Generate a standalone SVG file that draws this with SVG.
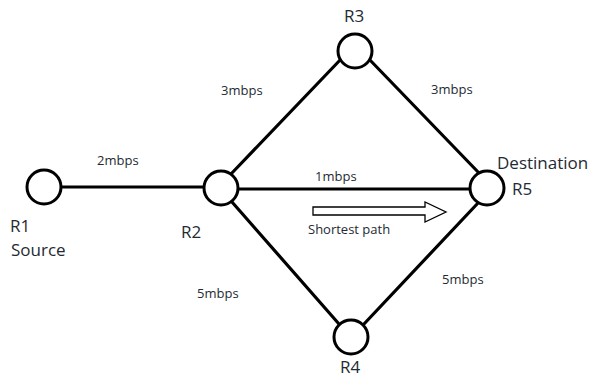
<svg xmlns="http://www.w3.org/2000/svg" width="598" height="380" viewBox="0 0 598 380">
  <style>
    .link { stroke: #000; stroke-width: 3.2; fill: none; stroke-linecap: round; }
    .router { fill: #fff; stroke: #000; stroke-width: 3; }
    .name { font-family: "Open Sans", "Liberation Sans", sans-serif; font-size: 17px; fill: #1f2a33; }
    .rate { font-family: "Open Sans", "Liberation Sans", sans-serif; font-size: 13px; fill: #1f2a33; }
    .arrow { fill: #fff; stroke: #000; stroke-width: 1.3; }
  </style>
  <rect width="598" height="380" fill="#fff"/>

  <!-- links between routers -->
  <g id="connectors">
    <line class="link" x1="61" y1="187" x2="204" y2="187"/>
    <line class="link" x1="239" y1="189" x2="470" y2="189"/>
    <line class="link" x1="231" y1="174" x2="342" y2="58"/>
    <line class="link" x1="368" y1="58" x2="479" y2="173"/>
    <line class="link" x1="232" y1="202" x2="339" y2="324"/>
    <line class="link" x1="364" y1="324" x2="478" y2="203"/>
  </g>

  <!-- link rates -->
  <g id="labels">
    <text class="rate" x="97" y="165">2mbps</text>
    <text class="rate" x="221" y="95">3mbps</text>
    <text class="rate" x="431" y="94">3mbps</text>
    <text class="rate" x="315" y="181">1mbps</text>
    <text class="rate" x="197" y="298">5mbps</text>
    <text class="rate" x="442" y="284">5mbps</text>
  </g>

  <!-- shortest-path hint -->
  <g id="shortest-path">
    <polygon class="arrow" points="313,207 425,207 425,202 446,212 425,222 425,215 313,215"/>
    <text class="rate" x="308" y="234">Shortest path</text>
  </g>

  <g id="R1">
    <circle class="router" cx="44" cy="187" r="17"/>
    <text class="name" x="10" y="232">R1</text>
    <text class="name" x="11" y="256">Source</text>
  </g>
  <g id="R2">
    <circle class="router" cx="221" cy="188" r="17"/>
    <text class="name" x="181" y="238">R2</text>
  </g>
  <g id="R3">
    <circle class="router" cx="355" cy="51" r="17"/>
    <text class="name" x="344" y="22">R3</text>
  </g>
  <g id="R4">
    <circle class="router" cx="351" cy="337" r="17"/>
    <text class="name" x="340" y="373">R4</text>
  </g>
  <g id="R5">
    <circle class="router" cx="487" cy="188" r="17"/>
    <text class="name" x="497" y="169">Destination</text>
    <text class="name" x="512" y="195">R5</text>
  </g>
</svg>
